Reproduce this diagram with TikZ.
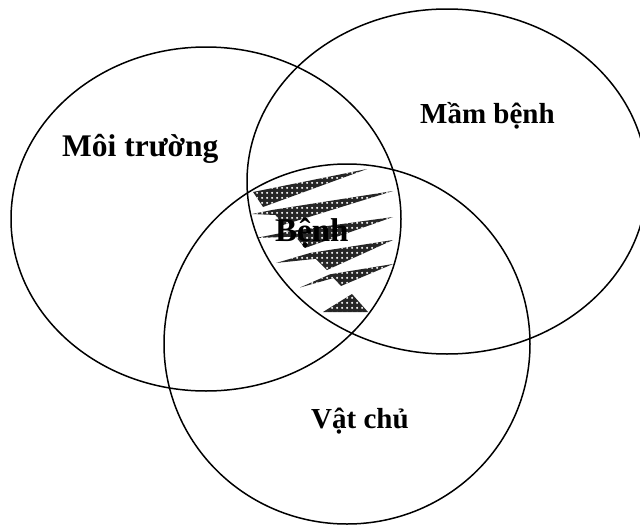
\documentclass[tikz,border=0pt]{standalone}
\usepackage{fontspec}
\setmainfont{Liberation Serif}
\usetikzlibrary{patterns}
\pgfdeclarepatternformonly{whitedots}{\pgfpointorigin}{\pgfqpoint{5pt}{5pt}}{\pgfqpoint{5pt}{5pt}}{%
  \pgfpathcircle{\pgfqpoint{2.5pt}{2.5pt}}{1.3pt}\pgfusepath{fill}}
\tikzset{
  ring/.style={draw=black, line width=1.5pt},
  wedge/.style={fill=black!85, postaction={pattern=whitedots, pattern color=white}},
  lbl/.style={inner sep=0pt, anchor=base west, font=\bfseries},
}
\begin{document}
\begin{tikzpicture}[x=1pt,y=-1pt]
\clip (0,0) rectangle (640,525);
\fill[white] (0,0) rectangle (640,525);
% hatched wedges
\path[wedge] (253,192) -- (367,169) -- (263,207) -- cycle;
\path[wedge] (252,214) -- (272,210) -- (393,191) -- (283,225) -- (275.5,215) -- cycle;
\path[wedge] (256,238) -- (291,231) -- (393,217) -- (305,248) -- (295.5,236.6) -- cycle;
\path[wedge] (276,263) -- (310,253) -- (393,240) -- (327,270) -- (315.6,258.8) -- cycle;
\path[wedge] (300,287.5) -- (330,274.3) -- (393,264) -- (341,286) -- (333.5,278) -- cycle;
\path[wedge] (323,312) -- (352,294) -- (368,312) -- cycle;
% circles
\draw[ring] (206,219) ellipse [x radius=195pt, y radius=172pt];
\draw[ring] (447,181.5) ellipse [x radius=200pt, y radius=172.5pt];
\draw[ring] (347,344) ellipse [x radius=183pt, y radius=180pt];
% labels
\node[lbl, font=\bfseries\fontsize{31.5}{38}\selectfont] (moi) at (62,156.5) {Môi trường};
\node[lbl, font=\bfseries\fontsize{29}{35}\selectfont] (mam) at (420,123) {Mầm bệnh};
\node[lbl, font=\bfseries\fontsize{33}{40}\selectfont] (benh) at (275,241) {Bệnh};
\node[lbl, font=\bfseries\fontsize{29}{35}\selectfont] (vat) at (311,428) {Vật chủ};
\end{tikzpicture}
\end{document}
